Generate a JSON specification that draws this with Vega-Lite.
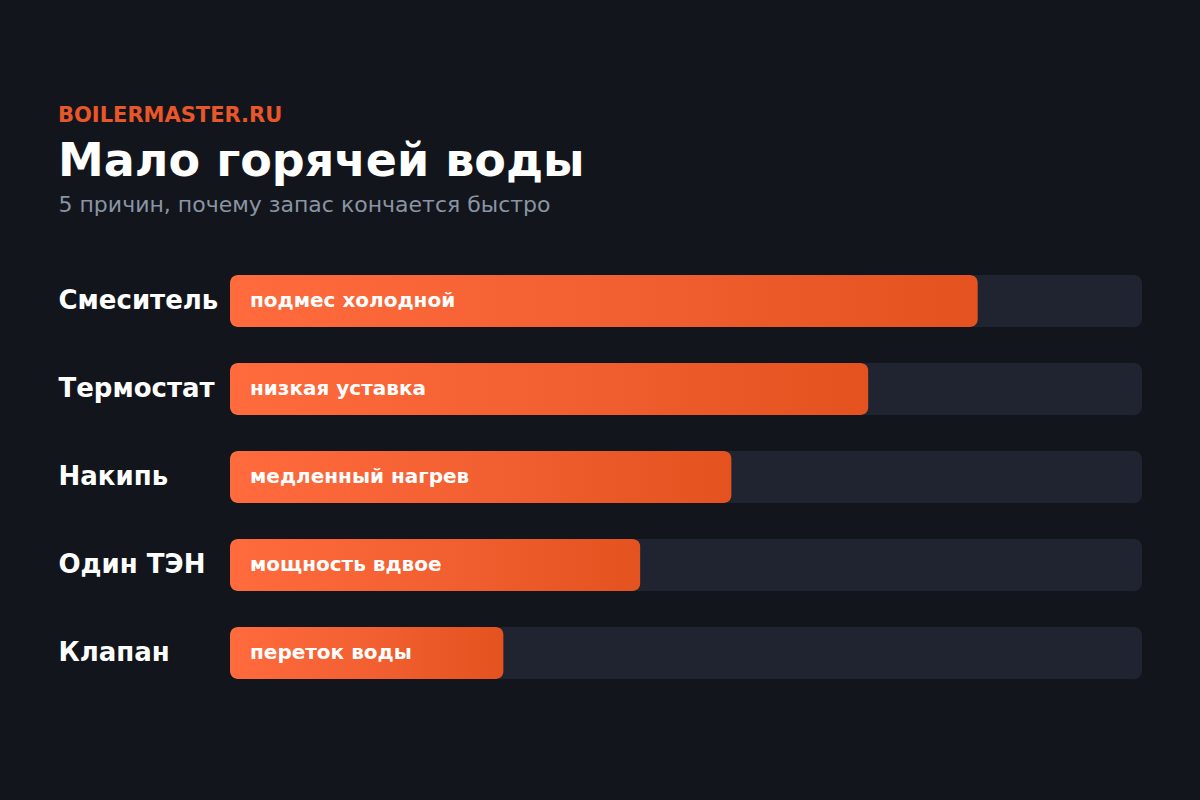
{
  "$schema": "https://vega.github.io/schema/vega-lite/v6.json",
  "width": 912,
  "height": 440,
  "autosize": "none",
  "padding": {"left": 230, "top": 257, "right": 58, "bottom": 103},
  "background": "#12151b",
  "title": {
    "text": "BOILERMASTER.RU",
    "subtitle": "Мало горячей воды",
    "anchor": "start",
    "frame": "bounds",
    "font": "DejaVu Sans",
    "fontSize": 21,
    "fontWeight": "bold",
    "color": "#e8572a",
    "subtitleFont": "DejaVu Sans",
    "subtitleFontSize": 46,
    "subtitleFontWeight": "bold",
    "subtitleColor": "#ffffff",
    "subtitlePadding": 14,
    "offset": 8
  },
  "config": {
    "view": {"stroke": null},
    "font": "DejaVu Sans"
  },
  "data": {
    "values": [
      {"cause": "Смеситель", "note": "подмес холодной", "share": 82},
      {"cause": "Термостат", "note": "низкая уставка", "share": 70},
      {"cause": "Накипь", "note": "медленный нагрев", "share": 55},
      {"cause": "Один ТЭН", "note": "мощность вдвое", "share": 45},
      {"cause": "Клапан", "note": "переток воды", "share": 30}
    ]
  },
  "layer": [
    {
      "mark": {"type": "bar", "color": "#1f2430", "cornerRadius": 8},
      "encoding": {
        "y": {
          "field": "cause",
          "type": "nominal",
          "sort": null,
          "scale": {"paddingInner": 0.41, "paddingOuter": 0.205},
          "axis": {
            "title": null,
            "domain": false,
            "ticks": false,
            "labelAlign": "left",
            "labelBaseline": "middle",
            "labelPadding": 172,
            "labelFont": "DejaVu Sans",
            "labelFontSize": 26,
            "labelFontWeight": "bold",
            "labelColor": "#ffffff"
          }
        },
        "x": {
          "datum": 100,
          "type": "quantitative",
          "scale": {"domain": [0, 100], "nice": false},
          "axis": {
            "orient": "top",
            "labels": false,
            "ticks": false,
            "domain": false,
            "grid": false,
            "title": "5 причин, почему запас кончается быстро",
            "titleFont": "DejaVu Sans",
            "titleFontSize": 22,
            "titleFontWeight": "normal",
            "titleColor": "#8a94a3",
            "titleAlign": "left",
            "titleAnchor": "start",
            "titleBaseline": "alphabetic",
            "titleX": -172,
            "titleY": -46
          }
        }
      }
    },
    {
      "mark": {
        "type": "bar",
        "cornerRadius": 8,
        "color": {
          "gradient": "linear",
          "x1": 0, "x2": 1, "y1": 0, "y2": 0,
          "stops": [
            {"offset": 0, "color": "#ff6b3d"},
            {"offset": 0.6, "color": "#f05d2e"},
            {"offset": 1, "color": "#e4521f"}
          ]
        }
      },
      "encoding": {
        "y": {"field": "cause", "type": "nominal", "sort": null},
        "x": {"field": "share", "type": "quantitative"}
      }
    },
    {
      "mark": {
        "type": "text",
        "align": "left",
        "baseline": "middle",
        "dx": 20,
        "font": "DejaVu Sans",
        "fontSize": 20,
        "fontWeight": "bold",
        "color": "#ffffff"
      },
      "encoding": {
        "y": {"field": "cause", "type": "nominal", "sort": null},
        "x": {"datum": 0, "type": "quantitative"},
        "text": {"field": "note"}
      }
    }
  ]
}
